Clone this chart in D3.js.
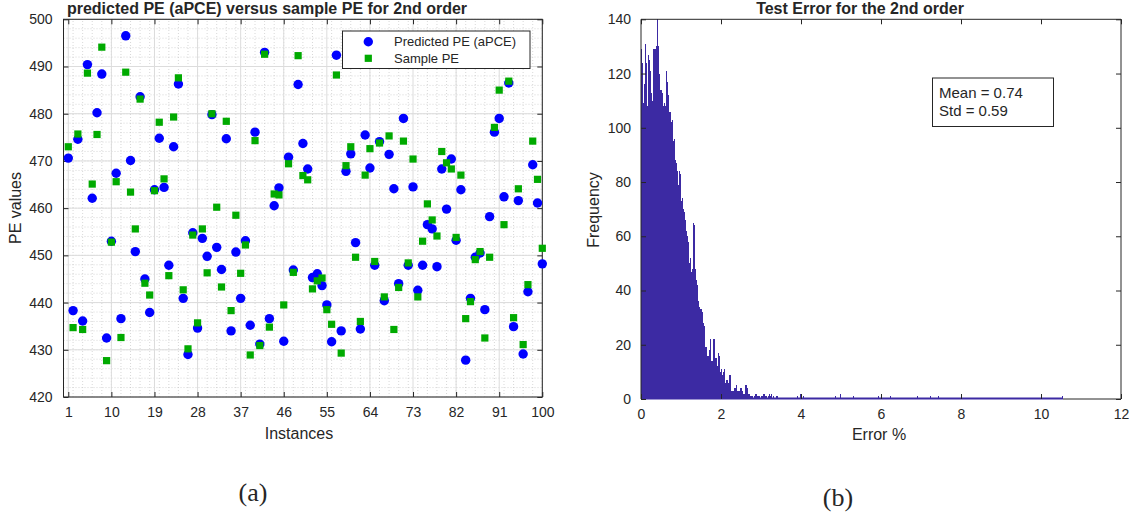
<!DOCTYPE html>
<meta charset="utf-8">
<script src="https://cdn.jsdelivr.net/npm/d3@7"></script>
<style>
  body { margin: 0; background: #fff; }
  text { font-family: "Liberation Sans", Arial, sans-serif; fill: #262626; }
</style>
<div id="fig"></div>
<script>
// ---- data (a): predicted vs sample PE, 100 instances
var instances = d3.range(1, 101);
var predictedPE = [
  470.6, 438.3, 474.6, 436.1, 490.4, 462.1, 480.2, 488.4, 432.5, 453.0,
  467.4, 436.6, 496.5, 470.1, 450.8, 483.6, 445.0, 437.9, 463.9, 474.8,
  464.4, 447.9, 473.0, 486.3, 440.9, 429.0, 454.8, 434.6, 453.6, 449.8,
  479.8, 451.7, 447.0, 474.7, 434.0, 450.7, 440.9, 453.1, 435.2, 476.1,
  431.2, 493.0, 436.6, 460.5, 464.3, 431.8, 470.8, 446.9, 486.2, 473.7,
  468.3, 445.3, 446.1, 443.6, 439.5, 431.7, 492.4, 434.0, 467.8, 471.5,
  452.7, 434.4, 475.5, 468.5, 447.9, 474.1, 440.4, 471.4, 464.1, 444.0,
  479.0, 447.9, 464.5, 442.6, 447.9, 456.5, 455.6, 447.6, 468.3, 459.8,
  470.4, 453.2, 463.9, 427.8, 440.9, 449.6, 450.5, 438.5, 458.2, 476.1,
  479.0, 462.4, 486.5, 434.9, 461.6, 429.1, 442.3, 469.2, 461.1, 448.2
];
var samplePE = [
  473.0, 434.7, 475.7, 434.3, 488.6, 465.1, 475.6, 494.1, 427.7, 452.8,
  465.6, 432.6, 488.8, 463.4, 455.6, 483.1, 444.1, 441.6, 463.7, 478.2,
  466.2, 445.7, 479.3, 487.6, 442.7, 430.2, 454.3, 435.7, 455.6, 446.3,
  480.0, 460.2, 443.3, 478.4, 438.3, 458.5, 446.2, 452.2, 428.9, 474.3,
  430.9, 492.6, 434.8, 463.0, 462.8, 439.5, 469.4, 446.4, 492.3, 466.9,
  466.0, 442.9, 444.6, 445.2, 438.5, 435.4, 488.2, 429.3, 469.0, 473.0,
  449.6, 436.0, 467.0, 472.6, 448.7, 473.8, 441.2, 475.3, 434.3, 443.2,
  474.2, 448.4, 470.4, 441.2, 453.0, 460.9, 457.5, 454.1, 472.0, 469.6,
  468.3, 453.8, 467.0, 436.6, 440.2, 449.1, 450.8, 432.5, 449.6, 477.1,
  485.0, 456.5, 486.9, 436.8, 464.1, 431.1, 443.8, 474.2, 466.1, 451.5
];
var xTicksA = [1, 10, 19, 28, 37, 46, 55, 64, 73, 82, 91, 100];
var yTicksA = [420, 430, 440, 450, 460, 470, 480, 490, 500];

// ---- data (b): histogram of test error, bin width 0.025 %
var binWidth = 0.025;
var counts = [
  129, 124, 109, 116, 131, 124, 108, 127, 125, 121,
  113, 110, 129, 129, 129, 130, 140, 130, 120, 114,
  114, 113, 108, 109, 108, 121, 117, 112, 106, 106,
  102, 103, 95, 96, 88, 87, 84, 79, 84, 83,
  73, 74, 70, 69, 66, 62, 60, 58, 50, 52,
  47, 48, 65, 64, 48, 44, 42, 36, 34, 33,
  33, 32, 28, 27, 19, 19, 16, 16, 18, 22,
  14, 14, 22, 22, 15, 15, 12, 17, 16, 10,
  11, 9, 10, 11, 6, 7, 7, 6, 9, 9,
  3, 3, 3, 4, 4, 5, 3, 3, 3, 4,
  4, 3, 2, 2, 5, 5, 4, 2, 2, 1,
  1, 1, 0, 1, 2, 2, 1, 1, 1, 0,
  1, 1, 2, 2, 1, 1, 0, 1, 2, 1,
  2, 0, 1, 0, 0, 1, 1, 0
];
var tailErrors = [3.9, 3.975, 4.05, 4.85, 4.975, 5.3, 5.925, 6.225, 6.9, 7.225, 7.425, 10.525];
var tailCounts = [1, 2, 1, 1, 2, 1, 1, 1, 1, 1, 1, 1];
var xTicksB = [0, 2, 4, 6, 8, 10, 12];
var yTicksB = [0, 20, 40, 60, 80, 100, 120, 140];
var meanErr = 0.74, stdErr = 0.59;

var svg = d3.select("#fig").append("svg")
  .attr("width", 1134).attr("height", 519);
svg.append("rect").attr("width", 1134).attr("height", 519).attr("fill", "#fff");

// ================= panel (a) =================
var xA = d3.scaleLinear().domain([0, 100]).range([63.5, 542.3]);
var yA = d3.scaleLinear().domain([420, 500]).range([397, 19.3]);
var gA = svg.append("g");

// minor grid (dotted)
gA.append("g").selectAll("line").data(d3.range(0, 101, 2)).enter().append("line")
  .attr("x1", function(d) { return xA(d); }).attr("x2", function(d) { return xA(d); })
  .attr("y1", yA(420)).attr("y2", yA(500))
  .attr("stroke", "#bdbdbd").attr("stroke-width", 0.6).attr("stroke-dasharray", "1,2");
gA.append("g").selectAll("line").data(d3.range(420, 501, 2)).enter().append("line")
  .attr("y1", function(d) { return yA(d); }).attr("y2", function(d) { return yA(d); })
  .attr("x1", xA(0)).attr("x2", xA(100))
  .attr("stroke", "#bdbdbd").attr("stroke-width", 0.6).attr("stroke-dasharray", "1,2");
// major grid
gA.append("g").selectAll("line").data(xTicksA).enter().append("line")
  .attr("x1", function(d) { return xA(d); }).attr("x2", function(d) { return xA(d); })
  .attr("y1", yA(420)).attr("y2", yA(500))
  .attr("stroke", "#dcdcdc").attr("stroke-width", 1);
gA.append("g").selectAll("line").data(yTicksA).enter().append("line")
  .attr("y1", function(d) { return yA(d); }).attr("y2", function(d) { return yA(d); })
  .attr("x1", xA(0)).attr("x2", xA(100))
  .attr("stroke", "#dcdcdc").attr("stroke-width", 1);

// axes with inward ticks
function styleAxis(g) {
  g.select(".domain").remove();
  g.selectAll(".tick line").attr("stroke", "#262626");
  g.selectAll(".tick text").style("font-family", "Liberation Sans, Arial, sans-serif")
    .style("font-size", "14px").attr("fill", "#262626");
}
gA.append("g").attr("transform", "translate(0," + yA(420) + ")")
  .call(d3.axisBottom(xA).tickValues(xTicksA).tickSize(-5).tickPadding(10))
  .call(styleAxis);
gA.append("g").attr("transform", "translate(0," + yA(500) + ")")
  .call(d3.axisTop(xA).tickValues(xTicksA).tickSize(-5).tickFormat(""))
  .call(styleAxis);
gA.append("g").attr("transform", "translate(" + xA(0) + ",0)")
  .call(d3.axisLeft(yA).tickValues(yTicksA).tickSize(-5).tickPadding(11))
  .call(styleAxis);
gA.append("g").attr("transform", "translate(" + xA(100) + ",0)")
  .call(d3.axisRight(yA).tickValues(yTicksA).tickSize(-5).tickFormat(""))
  .call(styleAxis);
gA.append("rect")
  .attr("x", xA(0)).attr("y", yA(500))
  .attr("width", xA(100) - xA(0)).attr("height", yA(420) - yA(500))
  .attr("fill", "none").attr("stroke", "#262626").attr("stroke-width", 1);

// markers
gA.append("g").selectAll("circle").data(instances).enter().append("circle")
  .attr("cx", function(d) { return xA(d); })
  .attr("cy", function(d, i) { return yA(predictedPE[i]); })
  .attr("r", 4.7).attr("fill", "#0000ff");
gA.append("g").selectAll("rect").data(instances).enter().append("rect")
  .attr("x", function(d) { return xA(d) - 3.6; })
  .attr("y", function(d, i) { return yA(samplePE[i]) - 3.6; })
  .attr("width", 7.2).attr("height", 7.2).attr("fill", "#00aa00");

// legend
var leg = gA.append("g");
leg.append("rect").attr("x", 342.5).attr("y", 31).attr("width", 187.5).attr("height", 37.5)
  .attr("fill", "#fff").attr("stroke", "#262626").attr("stroke-width", 1);
leg.append("circle").attr("cx", 368.3).attr("cy", 41.8).attr("r", 4.7).attr("fill", "#0000ff");
leg.append("rect").attr("x", 364.7).attr("y", 54.7).attr("width", 7.2).attr("height", 7.2).attr("fill", "#00aa00");
leg.append("text").attr("x", 394).attr("y", 46).style("font-size", "13px").text("Predicted PE (aPCE)");
leg.append("text").attr("x", 394).attr("y", 63).style("font-size", "13px").text("Sample PE");

// labels
gA.append("text").attr("x", 267).attr("y", 14).attr("text-anchor", "middle")
  .style("font-size", "16px").style("font-weight", "bold").attr("fill", "#000")
  .text("predicted PE (aPCE) versus sample PE for 2nd order");
gA.append("text").attr("x", 299).attr("y", 439).attr("text-anchor", "middle")
  .style("font-size", "16px").text("Instances");
gA.append("text").attr("transform", "translate(20.5,208) rotate(-90)").attr("text-anchor", "middle")
  .style("font-size", "16px").text("PE values");

// ================= panel (b) =================
var xB = d3.scaleLinear().domain([0, 12]).range([641, 1121]);
var yB = d3.scaleLinear().domain([0, 140]).range([399, 19.3]);
var gB = svg.append("g");

var bins = counts.map(function(c, k) { return { x0: k * binWidth, n: c }; })
  .concat(tailErrors.map(function(e, i) { return { x0: e, n: tailCounts[i] }; }))
  .filter(function(d) { return d.n > 0; });

// zero-height bars leave a coloured base line up to the last bin
gB.append("line")
  .attr("x1", xB(0)).attr("x2", xB(d3.max(tailErrors) + binWidth))
  .attr("y1", yB(0) - 0.5).attr("y2", yB(0) - 0.5)
  .attr("stroke", "#3c2aa3").attr("stroke-width", 2);

gB.append("g").selectAll("rect").data(bins).enter().append("rect")
  .attr("x", function(d) { return xB(d.x0); })
  .attr("y", function(d) { return yB(d.n); })
  .attr("width", xB(binWidth) - xB(0))
  .attr("height", function(d) { return yB(0) - yB(d.n); })
  .attr("fill", "#3c2aa3")
  .attr("shape-rendering", "crispEdges");

gB.append("g").attr("transform", "translate(0," + yB(0) + ")")
  .call(d3.axisBottom(xB).tickValues(xTicksB).tickSize(-5).tickPadding(10))
  .call(styleAxis);
gB.append("g").attr("transform", "translate(0," + yB(140) + ")")
  .call(d3.axisTop(xB).tickValues(xTicksB).tickSize(-5).tickFormat(""))
  .call(styleAxis);
gB.append("g").attr("transform", "translate(" + xB(0) + ",0)")
  .call(d3.axisLeft(yB).tickValues(yTicksB).tickSize(-5).tickPadding(10))
  .call(styleAxis);
gB.append("g").attr("transform", "translate(" + xB(12) + ",0)")
  .call(d3.axisRight(yB).tickValues(yTicksB).tickSize(-5).tickFormat(""))
  .call(styleAxis);
gB.append("path")
  .attr("d", "M" + xB(d3.max(tailErrors) + binWidth) + "," + yB(0) + "H" + xB(12) + "V" + yB(140) + "H" + xB(0) + "V" + yB(0))
  .attr("fill", "none").attr("stroke", "#262626").attr("stroke-width", 1);

// stats box
gB.append("rect").attr("x", 932.5).attr("y", 78).attr("width", 121).attr("height", 48.5)
  .attr("fill", "#fff").attr("stroke", "#262626").attr("stroke-width", 1);
gB.append("text").attr("x", 939).attr("y", 97.5).style("font-size", "15px").attr("fill", "#000")
  .text("Mean = " + meanErr.toFixed(2));
gB.append("text").attr("x", 939).attr("y", 116).style("font-size", "15px").attr("fill", "#000")
  .text("Std = " + stdErr.toFixed(2));

gB.append("text").attr("x", 860).attr("y", 14).attr("text-anchor", "middle")
  .style("font-size", "16px").style("font-weight", "bold").attr("fill", "#000")
  .text("Test Error for the 2nd order");
gB.append("text").attr("x", 879).attr("y", 440).attr("text-anchor", "middle")
  .style("font-size", "16px").text("Error %");
gB.append("text").attr("transform", "translate(599,210) rotate(-90)").attr("text-anchor", "middle")
  .style("font-size", "16px").text("Frequency");

// sub-captions
svg.append("text").attr("x", 253).attr("y", 501).attr("text-anchor", "middle")
  .style("font-family", "Liberation Serif, serif").style("font-size", "26px").attr("fill", "#000").text("(a)");
svg.append("text").attr("x", 838).attr("y", 506).attr("text-anchor", "middle")
  .style("font-family", "Liberation Serif, serif").style("font-size", "26px").attr("fill", "#000").text("(b)");
</script>
